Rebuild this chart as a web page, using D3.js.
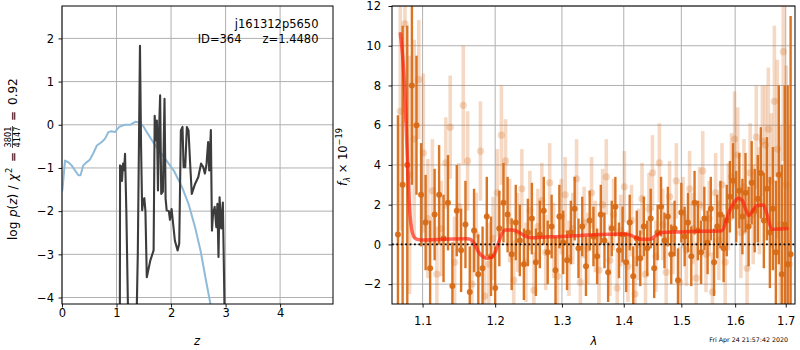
<!DOCTYPE html>
<html>
<head>
<meta charset="utf-8">
<script src="https://cdn.jsdelivr.net/npm/d3@7"></script>
<style>
body{margin:0;background:#fff}
text{font-family:"DejaVu Sans",sans-serif}
</style>
</head>
<body>
<div id="chart"></div>
<script>
// ---- p(z) panel data
var blueZ = [0,0.01,0.055,0.116,0.177,0.24,0.30,0.34,0.39,0.45,0.51,0.57,0.64,0.73,0.79,0.85,0.91,0.97,1.05,1.15,1.25,1.35,1.43,1.50,1.57,1.69,1.87,2.05,2.20,2.32,2.44,2.54,2.63,2.71,2.76]
var blueLp = [-1.55,-1.48,-0.83,-0.87,-0.94,-1.06,-1.17,-1.17,-0.94,-0.87,-0.81,-0.67,-0.48,-0.40,-0.32,-0.17,-0.15,-0.17,-0.05,0.0,0.0,0.07,0.05,-0.05,-0.2,-0.44,-0.75,-1.06,-1.44,-1.83,-2.37,-2.91,-3.53,-4.07,-4.4]
var blackZ = [1.06,1.065,1.08,1.10,1.12,1.14,1.156,1.18,1.22,1.36,1.39,1.43,1.45,1.47,1.49,1.51,1.53,1.555,1.62,1.68,1.70,1.72,1.74,1.76,1.78,1.80,1.82,1.85,1.88,1.90,1.92,1.96,1.98,2.01,2.07,2.12,2.15,2.18,2.21,2.23,2.26,2.29,2.32,2.35,2.38,2.44,2.50,2.55,2.59,2.62,2.65,2.68,2.70,2.73,2.75,2.77,2.80,2.83,2.85,2.87,2.89,2.92,2.95,2.99]
var blackLp = [-5,-0.94,-0.96,-1.3,-0.9,-1.05,-0.67,-2.0,-5,-5,-3,1.83,-0.5,-1.98,-1.75,-1.7,-2.0,-3.53,-3.14,-2.91,0.21,-0.36,0.1,-1.52,-0.13,0.68,-1.6,-1.55,0.6,-1.71,-1.98,-2.0,-2.2,-1.95,-2.68,-2.91,-2.75,-0.13,-0.05,-0.98,-0.98,-0.05,-0.13,-0.9,-1.6,-1.37,-1.21,-0.9,-0.98,-1.13,-0.92,-0.4,-1.06,-0.12,-2.45,-2.06,-1.9,-2.37,-1.83,-3.06,-1.68,-2.4,-1.8,-5]
var zTicks = [0,1,2,3,4]
var lpTicks = [-4,-3,-2,-1,0,1,2]
var objName = 'j161312p5650'
var objId = 'ID=364'
var objZ = 'z=1.4480'
var chiNum = '3801', chiDen = '4147', chiVal = '0.92'

// ---- spectrum panel data
var darkLam = [1.068,1.074,1.080,1.086,1.092,1.098,1.104,1.110,1.116,1.122,1.128,1.134,1.140,1.146,1.152,1.158,1.164,1.170,1.176,1.182,1.188,1.194,1.200,1.206,1.212,1.218,1.224,1.230,1.236,1.242,1.248,1.254,1.260,1.266,1.272,1.278,1.284,1.290,1.296,1.302,1.308,1.314,1.320,1.326,1.332,1.338,1.344,1.350,1.356,1.362,1.368,1.374,1.380,1.386,1.392,1.398,1.404,1.410,1.416,1.422,1.428,1.434,1.440,1.446,1.452,1.458,1.464,1.470,1.476,1.482,1.488,1.494,1.500,1.506,1.512,1.518,1.524,1.530,1.536,1.542,1.548,1.554,1.560,1.566,1.572,1.578,1.584,1.590,1.596,1.602,1.608,1.614,1.620,1.626,1.632,1.638,1.644,1.650,1.656,1.662,1.668,1.674,1.680,1.686,1.692,1.698,1.704,1.710]
var darkFlux = [0.5,3.0,4.0,8.0,6.0,2.5,1.1,-1.2,1.5,2.5,0.3,2.1,-2.1,1.7,-0.3,1.0,-2.4,0.7,-1.5,-1.2,1.4,-0.6,-2.2,0.8,2.1,1.5,-0.5,1.1,0.2,-1.0,0.6,1.3,-0.9,0.5,1.7,-0.4,0.9,-1.3,1.4,0.1,-0.8,0.6,1.8,-0.2,0.9,-1.1,1.2,0.4,-0.6,1.5,0.2,-1.4,0.8,1.9,-0.3,0.5,-0.9,1.1,-1.6,0.3,-0.7,0.9,-0.2,1.3,-1.2,0.6,1.9,0.2,1.4,-0.5,0.8,-1.8,1.6,0.4,1.1,-0.6,2.1,0.7,-0.4,1.3,0.1,1.8,-0.9,0.9,1.5,-0.2,1.2,2.4,3.2,1.9,2.7,1.4,2.6,0.9,3.1,1.7,2.3,3.6,1.2,2.8,0.6,1.8,-0.4,3.5,-1.5,1.0,-1.0,-0.5]
var darkErr = [6,8,7,5,3.5,2.6,2.4,2.4,2.3,2.5,2.2,2.4,2.2,2.3,2.1,2.2,2.3,2.1,2.0,2.1,2.0,2.0,2.1,1.9,2.0,1.9,1.8,1.9,1.8,1.8,1.7,1.8,1.7,1.7,1.7,1.6,1.6,1.7,1.6,1.6,1.5,1.6,1.6,1.5,1.5,1.5,1.5,1.5,1.4,1.5,1.4,1.5,1.4,1.5,1.4,1.4,1.5,1.4,1.5,1.4,1.4,1.5,1.4,1.5,1.5,1.4,1.5,1.4,1.5,1.5,1.4,1.6,1.5,1.5,1.5,1.5,1.6,1.5,1.6,1.6,1.6,1.6,1.7,1.6,1.7,1.7,1.8,1.8,1.9,1.8,1.9,1.9,2.0,2.0,2.1,2.1,2.2,2.3,2.4,2.6,2.8,3.1,3.6,4.5,5.5,7,9,12]
var lightLam = [1.071,1.077,1.083,1.089,1.095,1.101,1.107,1.113,1.119,1.125,1.131,1.137,1.143,1.149,1.155,1.161,1.167,1.173,1.179,1.185,1.191,1.197,1.203,1.209,1.215,1.221,1.227,1.233,1.239,1.245,1.251,1.257,1.263,1.269,1.275,1.281,1.287,1.293,1.299,1.305,1.311,1.317,1.323,1.329,1.335,1.341,1.347,1.353,1.359,1.365,1.371,1.377,1.383,1.389,1.395,1.401,1.407,1.413,1.419,1.425,1.431,1.437,1.443,1.449,1.455,1.461,1.467,1.473,1.479,1.485,1.491,1.497,1.503,1.509,1.515,1.521,1.527,1.533,1.539,1.545,1.551,1.557,1.563,1.569,1.575,1.581,1.587,1.593,1.599,1.605,1.611,1.617,1.623,1.629,1.635,1.641,1.647,1.653,1.659,1.665,1.671,1.677,1.683,1.689,1.695,1.701,1.707]
var lightFlux = [6.7,11.1,3.5,5.3,8.3,4.6,1.3,2.7,-1.5,0.8,4.1,5.9,-0.9,1.9,7.0,4.2,-2.0,0.5,4.7,-2.6,-1.0,0.3,2.6,5.5,4.2,1.2,-1.8,0.6,2.8,-0.9,1.7,-2.3,0.9,2.2,-0.4,3.1,0.2,-1.6,1.4,2.5,-0.7,0.8,3.3,-1.9,1.1,-0.2,2.6,0.4,-1.3,2.0,3.4,-0.8,1.5,-2.2,0.7,2.9,-1.1,1.2,-2.5,0.0,2.3,-1.5,1.8,3.6,-0.6,4.1,1.0,-1.4,2.4,0.3,3.2,-1.9,1.6,-0.3,2.8,0.8,-1.7,2.0,3.7,-0.5,1.3,-2.4,2.6,0.2,3.0,-0.9,1.9,3.4,5.3,4.5,0.6,2.9,-1.2,3.6,1.5,5.4,2.2,5.2,5.0,5.8,3.2,7.2,4.8,1.0,9.7,3.0,-1.0]
var lightErr = [6,5,6,5,3,4,3,2.6,2.4,2.4,2.3,2.6,2.3,2.2,3.0,2.5,2.2,2.1,2.5,2.1,2.1,2.1,2.2,2.5,2.1,2.1,2.0,2.0,2.0,2.0,2.0,1.9,1.9,1.9,1.9,2.0,1.9,1.9,1.9,1.9,1.9,1.8,2.0,1.8,1.8,1.8,1.8,1.8,1.8,1.8,1.9,1.8,1.8,1.8,1.8,1.8,1.8,1.8,1.9,1.8,1.8,1.8,1.8,1.9,1.8,2.0,1.8,1.8,1.8,1.8,1.9,1.8,1.8,1.8,1.9,1.8,1.8,1.9,2.0,1.9,1.9,2.0,2.0,2.0,2.1,2.1,2.2,2.2,2.4,2.4,2.3,2.4,2.4,2.5,2.5,2.6,2.7,2.8,3.0,3.1,3.4,3.8,4.5,5,5.5,6,7]
var modelLam = [1.071,1.074,1.077,1.079,1.081,1.083,1.086,1.090,1.095,1.100,1.120,1.140,1.160,1.165,1.170,1.175,1.180,1.188,1.195,1.200,1.205,1.210,1.215,1.225,1.235,1.245,1.255,1.280,1.300,1.330,1.360,1.400,1.410,1.420,1.430,1.445,1.455,1.465,1.500,1.540,1.575,1.583,1.590,1.598,1.606,1.614,1.620,1.626,1.634,1.642,1.655,1.660,1.665,1.672,1.690,1.703]
var modelFlux = [10.6,9.5,7.5,5.5,3.5,1.8,0.7,0.32,0.24,0.22,0.25,0.27,0.28,0.25,0.05,-0.3,-0.55,-0.7,-0.65,-0.4,0.1,0.55,0.72,0.72,0.6,0.4,0.33,0.38,0.4,0.45,0.5,0.52,0.48,0.35,0.26,0.26,0.45,0.6,0.63,0.66,0.69,1.2,1.73,2.1,2.32,2.2,1.8,1.45,1.7,1.95,1.98,1.7,1.25,0.76,0.78,0.8]
var lamTicks = [1.1,1.2,1.3,1.4,1.5,1.6,1.7]
var fTicks = [-2,0,2,4,6,8,10,12]
var stamp = 'Fri Apr 24 21:57:42 2020'

var fs = 11.5
var orange = '#d76914'
var gridColor = '#b0b0b0'

var svg = d3.select('#chart').append('svg')
.attr('width',800)
.attr('height',350)

function styleAxis(g){
    g.select('.domain').remove()
    g.attr('font-family','"DejaVu Sans",sans-serif').attr('font-size',fs)
    g.selectAll('line').attr('stroke','#000').attr('stroke-width',0.9)
    g.selectAll('text').attr('fill','#000')
}

// ================= left panel =================
var L = {x0:62, x1:333, y0:6, y1:304}
var xz = d3.scaleLinear().domain([0,4.97]).range([L.x0,L.x1])
var yz = d3.scaleLinear().domain([-4.15,2.75]).range([L.y1,L.y0])

svg.append('clipPath').attr('id','clipL').append('rect')
.attr('x',L.x0).attr('y',L.y0).attr('width',L.x1-L.x0).attr('height',L.y1-L.y0)

var gl = svg.append('g')
gl.selectAll('.gx').data(zTicks).enter().append('line')
.attr('x1',function(d){return xz(d)}).attr('x2',function(d){return xz(d)})
.attr('y1',L.y0).attr('y2',L.y1)
.attr('stroke',gridColor).attr('stroke-width',1)
gl.selectAll('.gy').data(lpTicks).enter().append('line')
.attr('y1',function(d){return yz(d)}).attr('y2',function(d){return yz(d)})
.attr('x1',L.x0).attr('x2',L.x1)
.attr('stroke',gridColor).attr('stroke-width',1)

var lineZ = d3.line().x(function(d){return xz(d[0])}).y(function(d){return yz(d[1])})
var plotL = gl.append('g').attr('clip-path','url(#clipL)')
plotL.append('path').datum(d3.zip(blueZ,blueLp))
.attr('d',lineZ).attr('fill','none').attr('stroke','#8fbbd9').attr('stroke-width',2)
.attr('stroke-linejoin','round')
plotL.append('path').datum(d3.zip(blackZ,blackLp))
.attr('d',lineZ).attr('fill','none').attr('stroke','#3c3c3c').attr('stroke-width',2.1)
.attr('stroke-linejoin','round')

gl.append('g').attr('transform','translate(0,'+L.y1+')')
.call(d3.axisBottom(xz).tickValues(zTicks).tickFormat(d3.format('d')).tickSize(3.5).tickPadding(1.5))
.call(styleAxis)
gl.append('g').attr('transform','translate('+L.x0+',0)')
.call(d3.axisLeft(yz).tickValues(lpTicks).tickFormat(d3.format('d')).tickSize(3.5).tickPadding(4.5))
.call(styleAxis)
gl.append('rect').attr('x',L.x0).attr('y',L.y0).attr('width',L.x1-L.x0).attr('height',L.y1-L.y0)
.attr('fill','none').attr('stroke','#000').attr('stroke-width',1)

gl.append('text').attr('x',318.5).attr('y',28).attr('text-anchor','end').attr('font-size',fs).text(objName)
gl.append('text').attr('x',241.5).attr('y',43).attr('text-anchor','end').attr('font-size',fs).text(objId)
gl.append('text').attr('x',318.5).attr('y',43).attr('text-anchor','end').attr('font-size',fs).text(objZ)

gl.append('text').attr('x',197).attr('y',345).attr('text-anchor','middle').attr('font-size',fs)
.attr('font-style','italic').text('z')

// y label:  log p(z) / chi^2 = num/den = val   (rotated, laid out piece by piece)
var yl1 = gl.append('g').attr('transform','translate(16.5,240) rotate(-90)')
var lf = 12
yl1.append('text').attr('font-size',lf).attr('x',0).text('log')
var pz = yl1.append('text').attr('font-size',lf).attr('x',23)
pz.append('tspan').attr('font-style','italic').text('p')
pz.append('tspan').text('(')
pz.append('tspan').attr('font-style','italic').text('z')
pz.append('tspan').text(')')
yl1.append('text').attr('font-size',lf).attr('x',50.5).text('/')
yl1.append('text').attr('font-size',lf).attr('x',59).attr('font-style','italic').text('χ')
yl1.append('text').attr('font-size',8.4).attr('x',67).attr('y',-4.8).text('2')
yl1.append('text').attr('font-size',lf).attr('x',78).text('=')
yl1.append('text').attr('font-size',8.2).attr('x',103).attr('y',-5.8).attr('text-anchor','middle').text(chiNum)
yl1.append('text').attr('font-size',8.2).attr('x',103).attr('y',3).attr('text-anchor','middle').text(chiDen)
yl1.append('line').attr('x1',92).attr('x2',114).attr('y1',-4).attr('y2',-4)
.attr('stroke','#000').attr('stroke-width',0.7)
yl1.append('text').attr('font-size',lf).attr('x',119).text('=')
yl1.append('text').attr('font-size',lf).attr('x',135).text(chiVal)

// ================= right panel =================
var R = {x0:392, x1:795, y0:6, y1:304}
var xl = d3.scaleLog().domain([1.0604,1.719]).range([R.x0,R.x1])
var yf = d3.scaleLinear().domain([-3,12]).range([R.y1,R.y0])

svg.append('clipPath').attr('id','clipR').append('rect')
.attr('x',R.x0).attr('y',R.y0).attr('width',R.x1-R.x0).attr('height',R.y1-R.y0)

var gr = svg.append('g')
gr.selectAll('.gx').data(lamTicks).enter().append('line')
.attr('x1',function(d){return xl(d)}).attr('x2',function(d){return xl(d)})
.attr('y1',R.y0).attr('y2',R.y1)
.attr('stroke',gridColor).attr('stroke-width',1)
gr.selectAll('.gy').data(fTicks).enter().append('line')
.attr('y1',function(d){return yf(d)}).attr('y2',function(d){return yf(d)})
.attr('x1',R.x0).attr('x2',R.x1)
.attr('stroke',gridColor).attr('stroke-width',1)

var plotR = gr.append('g').attr('clip-path','url(#clipR)')

function drawSpec(lam,flux,err,op,lw,r){
    var data = d3.zip(lam,flux,err)
    var g = plotR.append('g')
    g.selectAll('line').data(data).enter().append('line')
    .attr('x1',function(d){return xl(d[0])}).attr('x2',function(d){return xl(d[0])})
    .attr('y1',function(d){return yf(d[1]-d[2])}).attr('y2',function(d){return yf(d[1]+d[2])})
    .attr('stroke',orange).attr('stroke-opacity',op).attr('stroke-width',lw)
    g.selectAll('circle').data(data).enter().append('circle')
    .attr('cx',function(d){return xl(d[0])}).attr('cy',function(d){return yf(d[1])})
    .attr('r',r).attr('fill',orange).attr('fill-opacity',op)
}
drawSpec(lightLam,lightFlux,lightErr,0.25,3.6,3.6)
drawSpec(darkLam,darkFlux,darkErr,0.92,2.4,3)

plotR.append('path').datum(d3.zip(modelLam,modelFlux))
.attr('d',d3.line().curve(d3.curveMonotoneX).x(function(d){return xl(d[0])}).y(function(d){return yf(d[1])}))
.attr('fill','none').attr('stroke','#ff1a0a').attr('stroke-opacity',0.65).attr('stroke-width',3.5)
.attr('stroke-linejoin','round').attr('stroke-linecap','round')

plotR.append('line').attr('x1',R.x0).attr('x2',R.x1).attr('y1',yf(0)).attr('y2',yf(0))
.attr('stroke','#000').attr('stroke-width',1.8).attr('stroke-dasharray','1.8,2.6')

gr.append('g').attr('transform','translate(0,'+R.y1+')')
.call(d3.axisBottom(xl).tickValues(lamTicks).tickFormat(d3.format('.1f')).tickSize(3.5).tickPadding(9))
.call(styleAxis)
gr.append('g').attr('transform','translate('+R.x0+',0)')
.call(d3.axisLeft(yf).tickValues(fTicks).tickFormat(d3.format('d')).tickSize(3.5).tickPadding(7.5))
.call(styleAxis)
gr.append('rect').attr('x',R.x0).attr('y',R.y0).attr('width',R.x1-R.x0).attr('height',R.y1-R.y0)
.attr('fill','none').attr('stroke','#000').attr('stroke-width',1)

gr.append('text').attr('x',594).attr('y',345).attr('text-anchor','middle').attr('font-size',fs)
.attr('font-style','italic').text('λ')

var yl2 = gr.append('g').attr('transform','translate(347,157) rotate(-90)')
var t4 = yl2.append('text').attr('font-size',fs).attr('text-anchor','middle')
t4.append('tspan').attr('font-style','italic').text('f')
t4.append('tspan').attr('font-size',8.2).attr('dy',2.8).attr('font-style','italic').text('λ')
t4.append('tspan').attr('dy',-2.8).text(' × 10')
t4.append('tspan').attr('font-size',8.2).attr('dy',-4.8).text('−19')

gr.append('text').attr('x',788).attr('y',341.5).attr('text-anchor','end').attr('font-size',6.3).text(stamp)
</script>
</body>
</html>
